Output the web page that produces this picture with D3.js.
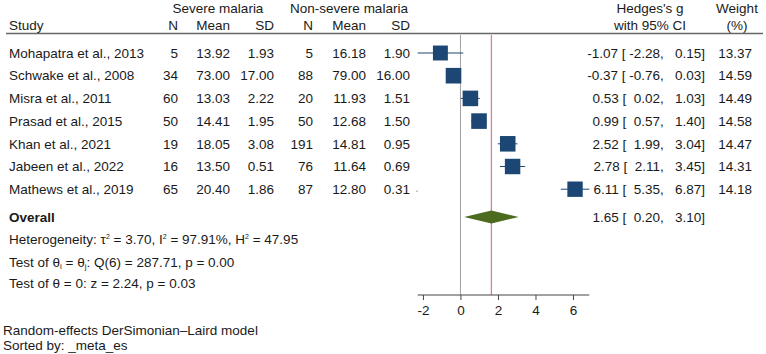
<!DOCTYPE html>
<html>
<head>
<meta charset="utf-8">
<script src="https://cdn.jsdelivr.net/npm/d3@7"></script>
<style>
  body { margin: 0; background: #fff; }
  svg { font-family: "Liberation Sans", Arial, sans-serif; font-size: 13.5px; fill: #1a1a1a; }
  text { white-space: pre; }
</style>
</head>
<body>
<svg id="chart" width="766" height="354"></svg>
<script>
// studies, top to bottom
const studies = ['Mohapatra et al., 2013', 'Schwake et al., 2008', 'Misra et al., 2011', 'Prasad et al., 2015',
  'Khan et al., 2021', 'Jabeen et al., 2022', 'Mathews et al., 2019'];
const sevN = [5, 34, 60, 50, 19, 16, 65];
const sevMean = ['13.92', '73.00', '13.03', '14.41', '18.05', '13.50', '20.40'];
const sevSD = ['1.93', '17.00', '2.22', '1.95', '3.08', '0.51', '1.86'];
const nonN = [5, 88, 20, 50, 191, 76, 87];
const nonMean = ['16.18', '79.00', '11.93', '12.68', '14.81', '11.64', '12.80'];
const nonSD = ['1.90', '16.00', '1.51', '1.50', '0.95', '0.69', '0.31'];
const es = [-1.07, -0.37, 0.53, 0.99, 2.52, 2.78, 6.11];
const lo = [-2.28, -0.76, 0.02, 0.57, 1.99, 2.11, 5.35];
const hi = [0.15, 0.03, 1.03, 1.40, 3.04, 3.45, 6.87];
const weight = [13.37, 14.59, 14.49, 14.58, 14.47, 14.31, 14.18];
const overall = {es: 1.65, lo: 0.20, hi: 3.10};
const xTicks = [-2, 0, 2, 4, 6];

const svg = d3.select('#chart');
// hyphen instead of unicode minus, like stata
const f2 = v => (v < 0 ? '-' : '') + Math.abs(v).toFixed(2);
const pad = v => (v < 0 ? ' ' : '  ') + f2(v);
const ciText = (e, l, h) => `${f2(e)} [${pad(l)}, ${pad(h)}]`;

/*scales*/
const x = d3.scaleLinear().domain([-2.28, 6.87]).range([417.7, 589.3]);
const y = d3.scaleLinear().domain([0, 1]).range([53, 75.7]);
const side = d3.scaleSqrt().domain([0, 14.59]).range([0, 15.6]);
const overallY = 217;
const axisY = 295;

function txt(xp, yp, s, anchor) {
  return svg.append('text').attr('x', xp).attr('y', yp).attr('dy', '0.35em')
    .attr('text-anchor', anchor || 'start').text(s);
}

/*header*/
txt(218, 8, 'Severe malaria', 'middle');
txt(349, 8, 'Non-severe malaria', 'middle');
txt(650, 8, "Hedges's g", 'middle');
txt(737, 8, 'Weight', 'middle');
txt(9, 25, 'Study');
txt(178, 25, 'N', 'end');
txt(230, 25, 'Mean', 'end');
txt(274, 25, 'SD', 'end');
txt(313, 25, 'N', 'end');
txt(366, 25, 'Mean', 'end');
txt(410, 25, 'SD', 'end');
txt(650, 25, 'with 95% CI', 'middle');
txt(737, 25, '(%)', 'middle');
svg.append('line').attr('x1', 6).attr('x2', 763).attr('y1', 33.5).attr('y2', 33.5)
  .attr('stroke', '#666').attr('stroke-width', 1.3);

/*reference lines*/
svg.append('line').attr('x1', x(0)).attr('x2', x(0)).attr('y1', 35).attr('y2', axisY)
  .attr('stroke', '#a0a0a0').attr('stroke-width', 1);
svg.append('line').attr('x1', x(overall.es)).attr('x2', x(overall.es)).attr('y1', 35).attr('y2', axisY)
  .attr('stroke', '#d9809a').attr('stroke-width', 1.3);

/*study rows*/
studies.forEach((s, i) => {
  const yy = y(i);
  txt(9, yy, s);
  txt(178, yy, sevN[i], 'end');
  txt(230, yy, sevMean[i], 'end');
  txt(274, yy, sevSD[i], 'end');
  txt(313, yy, nonN[i], 'end');
  txt(366, yy, nonMean[i], 'end');
  txt(410, yy, nonSD[i], 'end');
  txt(705, yy, ciText(es[i], lo[i], hi[i]), 'end');
  txt(752, yy, f2(weight[i]), 'end');

  svg.append('line').attr('x1', x(lo[i])).attr('x2', x(hi[i])).attr('y1', yy).attr('y2', yy)
    .attr('stroke', '#1c4775').attr('stroke-width', 1);
  const sd = side(weight[i]);
  svg.append('rect').attr('x', x(es[i]) - sd / 2).attr('y', yy - sd / 2)
    .attr('width', sd).attr('height', sd).attr('fill', '#1c4775');
});
// tiny dot after last row
svg.append('circle').attr('cx', 417).attr('cy', y(6) + 2).attr('r', 0.7).attr('fill', '#888');

/*overall*/
txt(9, overallY, 'Overall').attr('font-weight', 'bold');
svg.append('path')
  .attr('d', `M${x(overall.lo)},${overallY} L${x(overall.es)},${overallY - 6.5} L${x(overall.hi)},${overallY} L${x(overall.es)},${overallY + 6.5}Z`)
  .attr('fill', '#4d6b1f');
txt(705, overallY, ciText(overall.es, overall.lo, overall.hi), 'end');

/*stats text*/
function sup(parent, s) {
  parent.append('tspan').text(s).attr('font-size', 7).attr('dy', -5);
}
const het = svg.append('text').attr('x', 9).attr('y', 239).attr('dy', '0.35em');
het.append('tspan').text('Heterogeneity: τ');
sup(het, '2');
het.append('tspan').text(' = 3.70, I').attr('dy', 5);
sup(het, '2');
het.append('tspan').text(' = 97.91%, H').attr('dy', 5);
sup(het, '2');
het.append('tspan').text(' = 47.95').attr('dy', 5);

const t2 = svg.append('text').attr('x', 9).attr('y', 262).attr('dy', '0.35em');
t2.append('tspan').text('Test of θ');
t2.append('tspan').text('i').attr('font-size', 8).attr('dy', 2);
t2.append('tspan').text(' = θ').attr('dy', -2);
t2.append('tspan').text('j').attr('font-size', 8).attr('dy', 2);
t2.append('tspan').text(': Q(6) = 287.71, p = 0.00').attr('dy', -2);

txt(9, 283, 'Test of θ = 0: z = 2.24, p = 0.03');

/*axis*/
const axis = svg.append('g').attr('transform', `translate(0,${axisY})`)
  .call(d3.axisBottom(x).tickValues(xTicks).tickSize(5).tickPadding(5).tickFormat(d => d < 0 ? '-' + Math.abs(d) : d));
axis.select('.domain').attr('stroke', '#444').attr('d', `M${x.range()[0]},0H${x.range()[1]}`);
axis.selectAll('.tick line').attr('stroke', '#444');
axis.selectAll('.tick text').attr('font-size', 13.5).attr('fill', '#1a1a1a')
  .attr('font-family', '"Liberation Sans", Arial, sans-serif');

/*footnote*/
txt(3, 330, 'Random-effects DerSimonian–Laird model');
txt(3, 345, 'Sorted by: _meta_es');
</script>
</body>
</html>
